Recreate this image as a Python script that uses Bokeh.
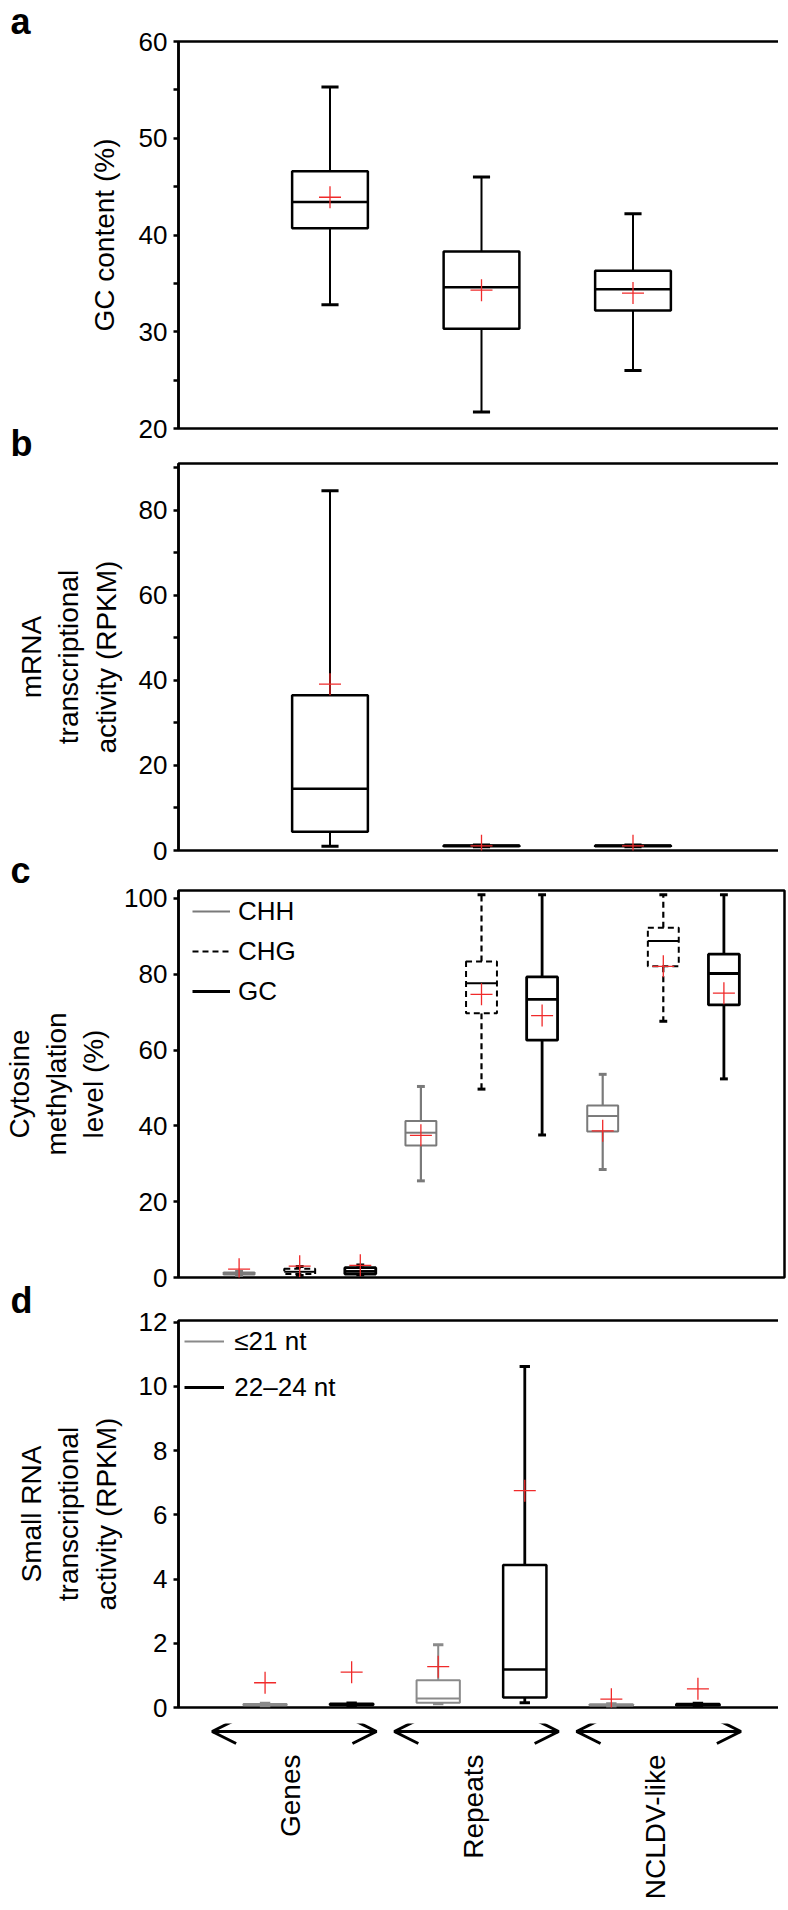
import math
from bokeh.plotting import figure
from bokeh.models import (Range1d, FixedTicker, Legend, LegendItem, Arrow,
                          OpenHead, ColumnDataSource)
from bokeh.layouts import column
from bokeh.embed import file_html
from bokeh.resources import INLINE
from bokeh.core.properties import value

# ---------------- data ----------------
categories = ["Genes", "Repeats", "NCLDV-like"]

# a: GC content (%)
gc_low = [32.8, 21.7, 26.0]
gc_q1 = [40.7, 30.3, 32.2]
gc_med = [43.4, 34.6, 34.4]
gc_q3 = [46.6, 38.3, 36.3]
gc_high = [55.3, 46.0, 42.2]
gc_mean = [43.9, 34.3, 34.0]
gc_ticks = [20, 30, 40, 50, 60]
gc_minor = [25, 35, 45, 55]

# b: mRNA transcriptional activity (RPKM)
mrna_low = [1.0, 0.9, 0.9]
mrna_q1 = [4.4, 1.0, 1.0]
mrna_med = [14.5, 1.1, 1.1]
mrna_q3 = [36.5, 1.2, 1.2]
mrna_high = [84.6, 1.3, 1.3]
mrna_mean = [39.1, 1.1, 1.1]
mrna_ticks = [0, 20, 40, 60, 80]
mrna_minor = [10, 30, 50, 70, 90]

# c: cytosine methylation level (%)
meth_series = ["CHH", "CHG", "GC"]
chh_low = [0.5, 25.5, 28.5]
chh_q1 = [0.8, 34.8, 38.5]
chh_med = [1.0, 38.2, 42.6]
chh_q3 = [1.3, 41.3, 45.4]
chh_high = [1.6, 50.4, 53.6]
chh_mean = [2.2, 37.5, 38.7]
chg_low = [0.6, 49.7, 67.6]
chg_q1 = [0.9, 69.7, 82.1]
chg_med = [1.5, 77.6, 88.8]
chg_q3 = [2.3, 83.4, 92.3]
chg_high = [2.9, 101.0, 101.0]
chg_mean = [3.0, 74.7, 82.1]
cg_low = [0.7, 37.6, 52.4]
cg_q1 = [0.9, 62.6, 71.9]
cg_med = [1.6, 73.4, 80.2]
cg_q3 = [2.6, 79.3, 85.3]
cg_high = [3.3, 101.0, 101.0]
cg_mean = [3.2, 69.1, 75.0]
meth_ticks = [0, 20, 40, 60, 80, 100]

# d: small RNA transcriptional activity (RPKM)
srna_series = ["\u226421 nt", "22\u201324 nt"]
s21_low = [0.05, 0.12, 0.04]
s21_q1 = [0.07, 0.15, 0.06]
s21_med = [0.09, 0.28, 0.08]
s21_q3 = [0.11, 0.85, 0.10]
s21_high = [0.13, 1.95, 0.12]
s21_mean = [0.77, 1.27, 0.26]
s24_low = [0.06, 0.15, 0.05]
s24_q1 = [0.08, 0.31, 0.07]
s24_med = [0.10, 1.18, 0.09]
s24_q3 = [0.12, 4.44, 0.11]
s24_high = [0.14, 10.62, 0.13]
s24_mean = [1.10, 6.75, 0.58]
srna_ticks = [0, 2, 4, 6, 8, 10, 12]

# ---------------- style / layout ----------------
FONT = "Liberation Sans"
RED = "#f02a2a"
GREY_C = "#7a7a7a"
GREY_D = "#8a8a8a"
BL, BR = 168, 4
FW, FH = 606, 387
W = BL + FW + BR
B = 16            # bottom border of each panel
T = 42            # height of the panel-letter title strip
FRAME_TOPS = [40, 461, 887, 1316]   # wanted page y of each frame top


def panel(i, letter, ylabel, yr, ticks, minor, nunits, lab_standoff):
    prev_bottom = 0 if i == 0 else FRAME_TOPS[i - 1] + FH + B
    m_top = FRAME_TOPS[i] - prev_bottom - T
    p = figure(frame_width=FW, frame_height=FH, x_range=Range1d(0, nunits),
               y_range=Range1d(*yr), x_axis_type=None, toolbar_location=None,
               output_backend="svg", min_border_left=BL, min_border_right=BR,
               min_border_top=0, min_border_bottom=B, margin=(m_top, 0, 0, 0),
               border_fill_color=None, background_fill_color="white")
    p.title.text = letter
    p.title.align = "left"
    p.title.offset = -BL
    p.title.standoff = 0
    p.title.vertical_align = "bottom"
    p.title.text_font = FONT
    p.title.text_font_size = "36px"
    p.title.text_font_style = "bold"
    p.title.text_color = "black"
    p.ygrid.grid_line_color = None
    p.outline_line_color = "black"
    p.outline_line_width = 2.5
    p.outline_line_alpha = 1.0
    ax = p.yaxis[0]
    ax.ticker = FixedTicker(ticks=ticks, minor_ticks=minor)
    ax.axis_label = ylabel
    ax.axis_label_text_font = FONT
    ax.axis_label_text_font_size = "28px"
    ax.axis_label_text_font_style = "normal"
    ax.axis_label_text_color = "black"
    ax.axis_label_standoff = lab_standoff
    ax.major_label_text_font = FONT
    ax.major_label_text_font_size = "26px"
    ax.major_label_text_color = "black"
    ax.major_label_standoff = 6
    ax.axis_line_width = 2.5
    ax.axis_line_color = "black"
    ax.major_tick_line_width = 2.5
    ax.minor_tick_line_width = 2.5
    ax.major_tick_line_color = "black"
    ax.minor_tick_line_color = "black"
    ax.major_tick_out = 5
    ax.major_tick_in = 0
    ax.minor_tick_out = 5
    ax.minor_tick_in = 0
    return p


def boxes(p, xs, low, q1, med, q3, high, mean, w, capw, color, lw, dash="solid", wlw=2.0):
    src = ColumnDataSource(dict(
        x=xs, low=low, q1=q1, med=med, q3=q3, high=high, mean=mean,
        xl=[x - w / 2 for x in xs], xr=[x + w / 2 for x in xs],
        cl=[x - capw / 2 for x in xs], cr=[x + capw / 2 for x in xs]))
    wr = p.segment(x0="x", y0="q3", x1="x", y1="high", source=src, line_color=color,
                   line_width=wlw, line_dash=dash)
    p.segment(x0="x", y0="q1", x1="x", y1="low", source=src, line_color=color,
              line_width=wlw, line_dash=dash)
    p.segment(x0="cl", y0="high", x1="cr", y1="high", source=src, line_color=color, line_width=3)
    p.segment(x0="cl", y0="low", x1="cr", y1="low", source=src, line_color=color, line_width=3)
    p.vbar(x="x", width=w, bottom="q1", top="q3", source=src, fill_color="white",
           line_color=color, line_width=lw, line_dash=dash)
    p.segment(x0="xl", y0="med", x1="xr", y1="med", source=src, line_color=color,
              line_width=lw)
    p.scatter(x="x", y="mean", source=src, marker="cross", size=22, line_color=RED,
              line_width=1.3)
    return wr


def legend(items, x, y, gw, gh, gap, standoff):
    return Legend(items=[LegendItem(label=t, renderers=[r]) for t, r in items],
                  location=(x, y), glyph_width=gw, glyph_height=gh, label_height=gh,
                  spacing=gap, padding=0, margin=0, label_standoff=standoff,
                  border_line_color=None, background_fill_alpha=0,
                  label_text_font=FONT, label_text_font_size="26px",
                  label_text_color="black")


# ---- panel a ----
pa = panel(0, "a", "GC content (%)", (20, 60), gc_ticks, gc_minor, 4, 16)
xa = [1 + k for k in range(len(categories))]
boxes(pa, xa, gc_low, gc_q1, gc_med, gc_q3, gc_high, gc_mean, 0.5, 0.113, "black", 2.5)

# ---- panel b ----
pb = panel(1, "b", "mRNA\ntranscriptional\nactivity (RPKM)", (0, 91), mrna_ticks, mrna_minor,
           4, 14)
boxes(pb, xa, mrna_low, mrna_q1, mrna_med, mrna_q3, mrna_high, mrna_mean, 0.5, 0.113,
      "black", 2.5)

# ---- panel c ----
pc = panel(2, "c", "Cytosine\nmethylation\nlevel (%)", (0, 102.1), meth_ticks, [], 10, 12)
xc = [[1 + 3 * k + j for k in range(len(categories))] for j in range(3)]
r_chh = boxes(pc, xc[0], chh_low, chh_q1, chh_med, chh_q3, chh_high, chh_mean, 0.51, 0.13,
              GREY_C, 2.0, wlw=2.2)
r_chg = boxes(pc, xc[1], chg_low, chg_q1, chg_med, chg_q3, chg_high, chg_mean, 0.51, 0.13,
              "black", 2.0, dash="6 4", wlw=2.2)
r_cg = boxes(pc, xc[2], cg_low, cg_q1, cg_med, cg_q3, cg_high, cg_mean, 0.51, 0.13,
             "black", 2.8, wlw=2.8)
pc.add_layout(legend([(meth_series[0], r_chh), (meth_series[1], r_chg),
                      (meth_series[2], r_cg)], 14, FH - 121, 38, 40, 0, 8))

# ---- panel d ----
pd_ = panel(3, "d", "Small RNA\ntranscriptional\nactivity (RPKM)", (0, 12.05), srna_ticks, [],
            7, 14)
xd = [[1 + 2 * k + j for k in range(len(categories))] for j in range(2)]
r21 = boxes(pd_, xd[0], s21_low, s21_q1, s21_med, s21_q3, s21_high, s21_mean, 0.5, 0.12,
            GREY_D, 2.0, wlw=2.0)
r24 = boxes(pd_, xd[1], s24_low, s24_q1, s24_med, s24_q3, s24_high, s24_mean, 0.5, 0.12,
            "black", 2.5, wlw=2.8)
pd_.add_layout(legend([(srna_series[0], r21), (srna_series[1], r24)], 17, FH - 87, 40, 40, 6,
                      10))

# ---- category arrows / labels ----
EH = 176
pe = figure(width=W, height=EH, x_range=pd_.x_range, y_range=Range1d(EH, 0),
            x_axis_type=None, y_axis_type=None, toolbar_location=None, output_backend="svg",
            min_border_left=BL, min_border_right=BR, min_border_top=0, min_border_bottom=0,
            outline_line_color=None, border_fill_color=None)
pe.grid.visible = False
arrow_c = [3.5 + (k - 1) * 2.14 for k in range(len(categories))]
for c in arrow_c:
    pe.add_layout(Arrow(start=OpenHead(size=24, line_width=3), end=OpenHead(size=24, line_width=3),
                        x_start=c - 0.965, x_end=c + 0.965, y_start=8, y_end=8, line_width=3))
pe.text(x=[c - 0.04 for c in arrow_c], y=[31] * len(categories), text=categories,
        angle=math.pi / 2, text_align="right", text_baseline="middle",
        text_font=value(FONT), text_font_size=value("28px"), text_color="black")

layout = column(pa, pb, pc, pd_, pe)
open("out.html", "w").write(file_html(layout, INLINE))
